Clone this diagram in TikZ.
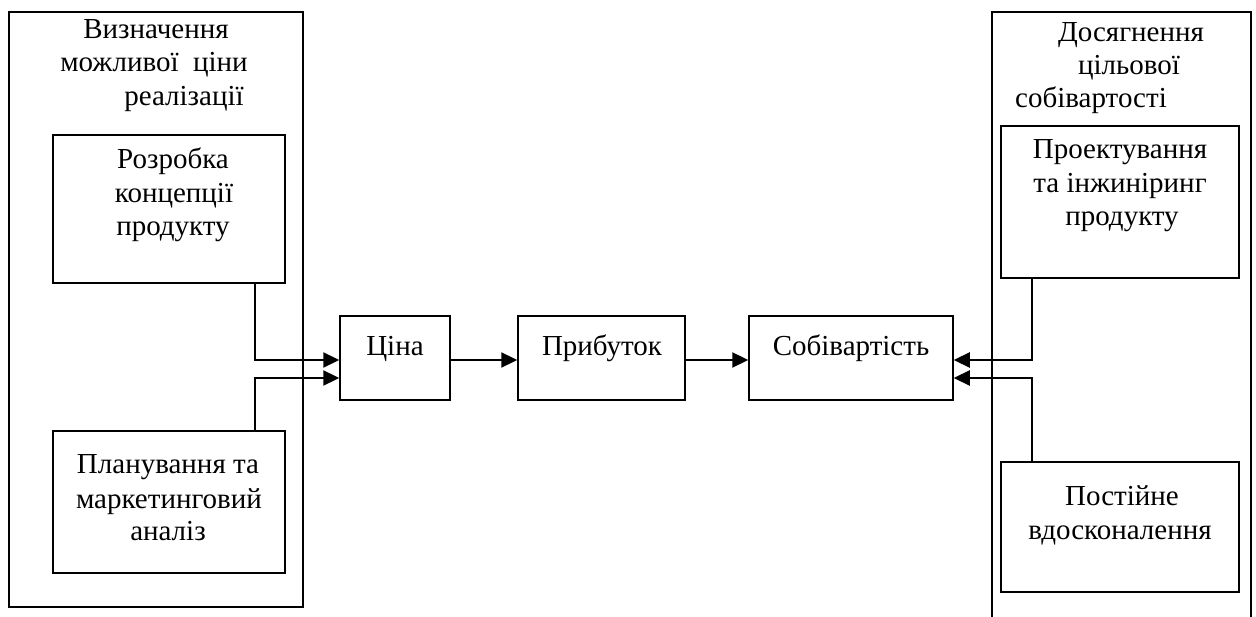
\documentclass[tikz,border=0pt]{standalone}
\usepackage{fontspec}
\setmainfont{Liberation Serif}
\usetikzlibrary{arrows.meta}
\begin{document}
\begin{tikzpicture}[x=1pt,y=-1pt,
  box/.style={draw, line width=1.5pt, inner sep=0pt},
  frame/.style={draw, line width=1.5pt},
  conn/.style={line width=2.3pt, -{Triangle[length=16pt,width=15pt]}},
  lbl/.style={anchor=base, inner sep=0pt, font=\fontsize{29}{35}\selectfont}]
\useasboundingbox (0,0) rectangle (1256,617);
% boxes
\node[box, minimum width=294, minimum height=595] (outL) at (156,309.5) {};
\node[box, minimum width=232, minimum height=148] (rozr) at (169,209) {};
\node[box, minimum width=232, minimum height=142] (plan) at (169,502) {};
\node[box, minimum width=110, minimum height=84] (cina) at (395,358) {};
\node[box, minimum width=167, minimum height=84] (prib) at (601.5,358) {};
\node[box, minimum width=204, minimum height=84] (sob) at (851,358) {};
\coordinate (rBL) at (992,617);
\coordinate (rTL) at (992,12);
\coordinate (rTR) at (1251,12);
\coordinate (rBR) at (1251,617);
\draw[frame] (rBL) -- (rTL) -- (rTR) -- (rBR);
\node[box, minimum width=238, minimum height=152] (proj) at (1120,202) {};
\node[box, minimum width=238, minimum height=130] (post) at (1120,527) {};
% connectors
\coordinate (lx) at (255,0);
\coordinate (rx) at (1032,0);
\coordinate (yA) at (0,360);
\coordinate (yB) at (0,378);
\draw[conn] (rozr.south -| lx) |- (cina.west |- yA);
\draw[conn] (plan.north -| lx) |- (cina.west |- yB);
\draw[conn] (cina.east |- yA) -- (prib.west |- yA);
\draw[conn] (prib.east |- yA) -- (sob.west |- yA);
\draw[conn] (proj.south -| rx) |- (sob.east |- yA);
\draw[conn] (post.north -| rx) |- (sob.east |- yB);
% texts left
\node[lbl] (tl1) at (156,39) {Визначення};
\node[lbl] (tl2) at (154,72) {можливої\ \ ціни};
\node[lbl] (tl3) at (184,106) {реалізації};
\node[lbl] (r1) at (173,169) {Розробка};
\node[lbl] (r2) at (174,203) {концепції};
\node[lbl] (r3) at (173,236) {продукту};
\node[lbl] (p1) at (168,474) {Планування та};
\node[lbl] (p2) at (169,508) {маркетинговий};
\node[lbl] (p3) at (168,540) {аналіз};
% middle texts
\node[lbl] (c1) at (395,356) {Ціна};
\node[lbl] (b1) at (602,356) {Прибуток};
\node[lbl] (s1) at (851,356) {Собівартість};
% texts right
\node[lbl] (tr1) at (1131,42) {Досягнення};
\node[lbl] (tr2) at (1129,75) {цільової};
\node[lbl] (tr3) at (1091,108) {собівартості};
\node[lbl] (q1) at (1120,159) {Проектування};
\node[lbl] (q2) at (1120,193) {та інжиніринг};
\node[lbl] (q3) at (1122,226) {продукту};
\node[lbl] (u1) at (1122,505) {Постійне};
\node[lbl] (u2) at (1120,539) {вдосконалення};
\end{tikzpicture}
\end{document}
